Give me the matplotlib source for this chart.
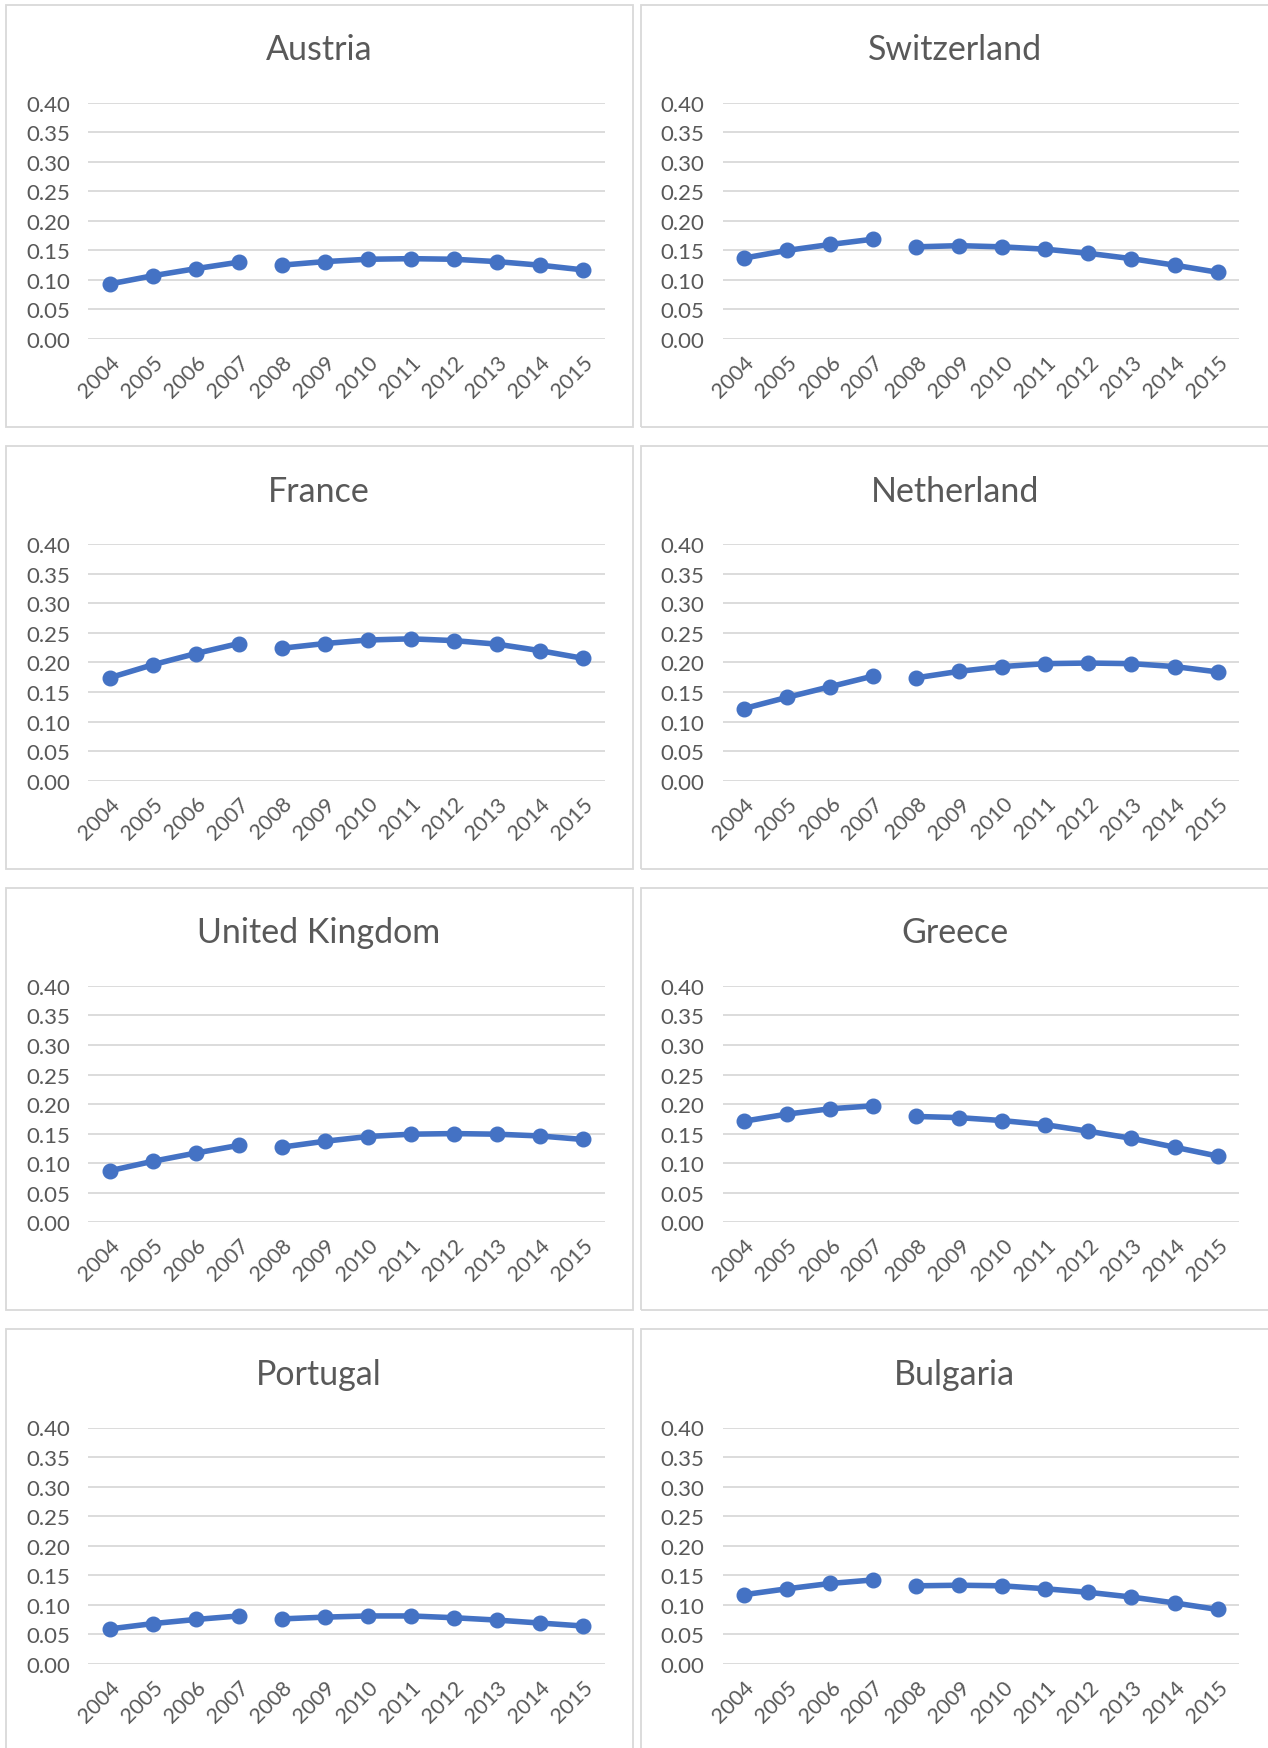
import matplotlib.pyplot as plt
from matplotlib.patches import Rectangle

# data
years = ["2004", "2005", "2006", "2007", "2008", "2009",
         "2010", "2011", "2012", "2013", "2014", "2015"]
countries = ["Austria", "Switzerland", "France", "Netherland",
             "United Kingdom", "Greece", "Portugal", "Bulgaria"]

austria = [0.093, 0.107, 0.119, 0.130, 0.125, 0.131, 0.135, 0.136, 0.135, 0.131, 0.125, 0.117]
switzerland = [0.137, 0.150, 0.160, 0.169, 0.156, 0.158, 0.156, 0.152, 0.145, 0.136, 0.125, 0.113]
france = [0.174, 0.196, 0.215, 0.232, 0.224, 0.232, 0.238, 0.240, 0.237, 0.231, 0.220, 0.207]
netherland = [0.122, 0.141, 0.159, 0.177, 0.174, 0.185, 0.193, 0.198, 0.199, 0.198, 0.193, 0.184]
united_kingdom = [0.087, 0.103, 0.117, 0.130, 0.127, 0.137, 0.145, 0.149, 0.150, 0.149, 0.146, 0.140]
greece = [0.171, 0.183, 0.192, 0.197, 0.179, 0.177, 0.172, 0.165, 0.154, 0.142, 0.127, 0.112]
portugal = [0.059, 0.068, 0.075, 0.081, 0.076, 0.079, 0.081, 0.081, 0.078, 0.074, 0.069, 0.064]
bulgaria = [0.117, 0.127, 0.136, 0.142, 0.132, 0.133, 0.132, 0.127, 0.121, 0.113, 0.103, 0.092]

series = [austria, switzerland, france, netherland,
          united_kingdom, greece, portugal, bulgaria]
y_ticks = [0.0, 0.05, 0.10, 0.15, 0.20, 0.25, 0.30, 0.35, 0.40]

BLUE = "#4472C4"
GRID = "#D9D9D9"
TEXT = "#595959"

plt.rcParams['font.family'] = ['Lato', 'DejaVu Sans']

W, H = 1268, 1749
fig = plt.figure(figsize=(W / 100, H / 100), dpi=100)

ROW_STEP = 441.6
COL_PLOT_LEFT = [88, 722.6]
COL_FRAME = [(5.6, 633), (641, 1275)]
TITLE_X = [319, 954.6]

for i, (name, vals) in enumerate(zip(countries, series)):
    r, c = divmod(i, 2)
    off = r * ROW_STEP

    # panel frame
    fx0, fx1 = COL_FRAME[c]
    fy0, fy1 = 5.6 + off, 428 + off
    fig.patches.append(Rectangle((fx0 / W, 1 - fy1 / H), (fx1 - fx0) / W, (fy1 - fy0) / H,
                                 transform=fig.transFigure, fill=False,
                                 edgecolor=GRID, linewidth=1.3))

    # plot area
    top, bottom = 103.7 + off, 340 + off
    ax = fig.add_axes([COL_PLOT_LEFT[c] / W, 1 - bottom / H, 516.5 / W, (bottom - top) / H])
    x = list(range(len(years)))
    # gap between 2007 and 2008
    ax.plot(x[:4], vals[:4], color=BLUE, lw=4, marker="o", ms=10.5, solid_capstyle="round")
    ax.plot(x[4:], vals[4:], color=BLUE, lw=4, marker="o", ms=10.5, solid_capstyle="round")

    ax.set_xlim(-0.5, len(years) - 0.5)
    ax.set_ylim(0, 0.40)
    ax.set_yticks(y_ticks)
    ax.set_yticklabels([f"{v:.2f}" for v in y_ticks])
    ax.set_xticks(x)
    ax.set_xticklabels(years, rotation=45, ha="right", va="top", rotation_mode="anchor")
    ax.grid(axis="y", color=GRID, linewidth=1.3)
    ax.set_axisbelow(True)
    for s in ax.spines.values():
        s.set_visible(False)
    ax.tick_params(axis="y", length=0, pad=13, labelsize=16, labelcolor=TEXT)
    ax.tick_params(axis="x", length=0, pad=9, labelsize=15.5, labelcolor=TEXT)
    ax.patch.set_alpha(0)

    fig.text(TITLE_X[c] / W, 1 - (50 + off) / H, name, ha="center", va="center",
             fontsize=24.5, color=TEXT)

fig.savefig("out.png", dpi=100)
